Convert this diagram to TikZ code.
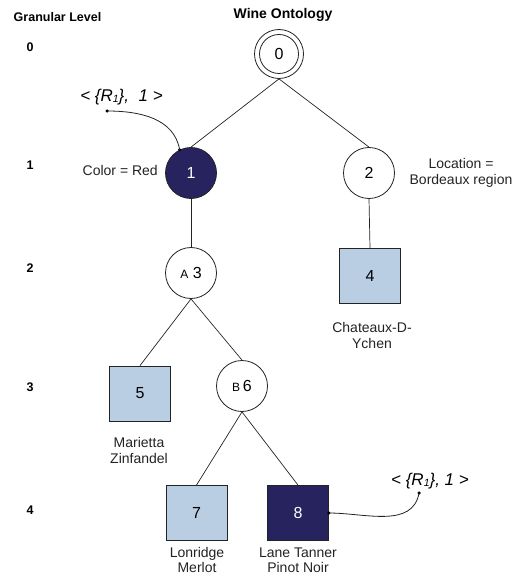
\documentclass[tikz,border=0pt]{standalone}
\usepackage{fontspec}
\setmainfont{Liberation Sans}
\definecolor{navy}{RGB}{38,35,95}
\definecolor{lblue}{RGB}{185,205,227}
\definecolor{ln}{RGB}{35,35,35}
\begin{document}
\begin{tikzpicture}[x=1pt,y=-1pt,
 circ/.style={circle,draw=ln,line width=0.8pt,minimum size=51pt,inner sep=0pt,font=\fontsize{16}{18}\selectfont},
 box/.style={rectangle,draw=ln,line width=0.8pt,fill=lblue,minimum width=61pt,minimum height=55pt,inner sep=0pt,font=\fontsize{16}{18}\selectfont},
 edge/.style={draw=ln,line width=0.7pt},
 lbl/.style={font=\fontsize{14}{16}\selectfont,text=ln,align=center,inner sep=0pt},
 lvl/.style={font=\fontsize{12.5}{14}\selectfont\bfseries,inner sep=0pt},
 call/.style={font=\fontsize{17}{19}\selectfont\itshape,inner sep=0pt},
 dotm/.style={circle,fill=black,inner sep=0pt,minimum size=3.5pt}]
\useasboundingbox (0,0) rectangle (522,577);

% headings
\node[lvl] (gl) at (57.5,17) {Granular Level};
\node[lvl,font=\fontsize{14}{16}\selectfont\bfseries] (wo) at (283,15) {Wine Ontology};
\node[lvl] (l0) at (30,47) {0};
\node[lvl] (l1) at (30,165) {1};
\node[lvl] (l2) at (30,268) {2};
\node[lvl] (l3) at (30,387) {3};
\node[lvl] (l4) at (30,510) {4};

% nodes
\node[circ,minimum size=49pt] (n0) at (279,54) {0};
\draw[ln,line width=0.8pt] (n0.center) circle[radius=19.5];
\node[circ,fill=navy,text=white] (n1) at (191,173) {1};
\node[circ] (n2) at (369,173) {2};
\node[circ] (n3) at (191,273) {{\fontsize{12}{14}\selectfont A}\ 3};
\node[box] (n4) at (370,276) {4};
\node[box] (n5) at (140,393.5) {5};
\node[circ] (n6) at (242,386) {{\fontsize{12}{14}\selectfont B}\,6};
\node[box] (n7) at (196.5,513) {7};
\node[box,fill=navy,text=white] (n8) at (298,513) {8};

% edges
\draw[edge] (n0.south) -- (n1.north);
\draw[edge] (n0.south) -- (n2.north);
\draw[edge] (n1.south) -- (n3.north);
\draw[edge] (n2.south) -- (n4.north);
\draw[edge] (n3.south) -- (n5.north);
\draw[edge] (n3.south) -- (n6.north);
\draw[edge] (n6.south) -- (n7.north);
\draw[edge] (n6.south) -- (n8.north);

% labels
\node[lbl,anchor=east] (t1) at (158,170) {Color = Red};
\node[lbl] (t2) at (461,173) {Location =\\Bordeaux region};
\node[lbl] (t4) at (372,335) {Chateaux-D-\\Ychen};
\node[lbl] (t5) at (139,450) {Marietta\\Zinfandel};
\node[lbl,font=\fontsize{14}{15}\selectfont] (t7) at (197,560) {Lonridge\\Merlot};
\node[lbl,font=\fontsize{14}{15}\selectfont] (t8) at (298,560) {Lane Tanner\\Pinot Noir};

% callouts
\node[call] (c1) at (121.5,97) {<~\{R\raisebox{-1pt}{\fontsize{10.5}{10.5}\selectfont 1}\},~~1~>};
\node[dotm] (d1) at (107,111) {};
\node[dotm] (d1b) at (n1.116) {};
\draw[ln,line width=0.8pt] (d1.center) to[out=0,in=100] (d1b.center);

\node[call] (c2) at (430,481) {<~\{R\raisebox{-1pt}{\fontsize{10.5}{10.5}\selectfont 1}\},~1~>};
\node[dotm] (d2) at (419,493) {};
\node[dotm] (d2b) at (n8.east) {};
\draw[ln,line width=0.8pt] (d2b.center) to[out=0,in=-100] (d2.center);
\end{tikzpicture}
\end{document}
